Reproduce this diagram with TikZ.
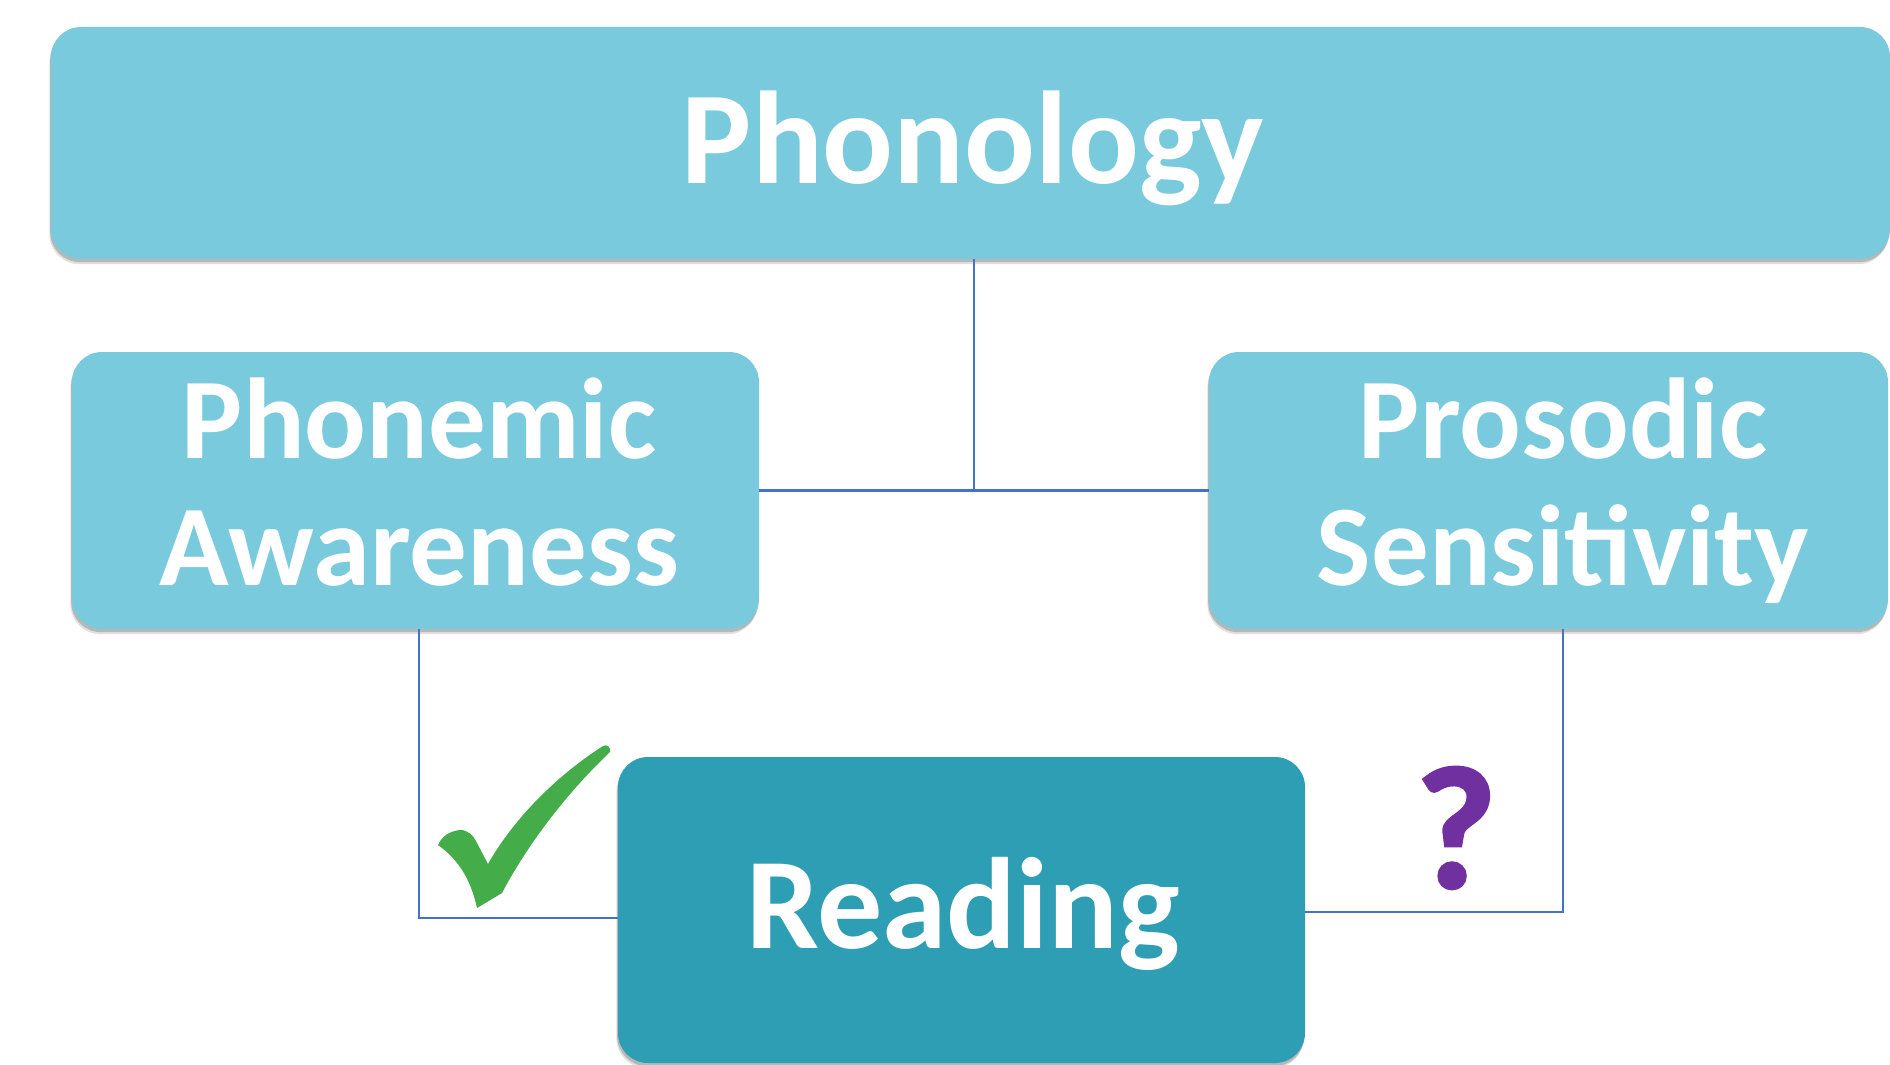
\documentclass[tikz,border=0pt]{standalone}
\usepackage{fontspec}
\setmainfont{Carlito}
\newfontfamily\qfont[BoldFeatures={FakeBold=2}]{Carlito}
\usetikzlibrary{shadows}
\definecolor{lightbox}{RGB}{121,202,220}
\definecolor{darkbox}{RGB}{46,158,180}
\definecolor{linkblue}{RGB}{68,114,196}
\definecolor{checkgreen}{RGB}{68,172,72}
\definecolor{qpurple}{RGB}{112,48,160}
\begin{document}
\begin{tikzpicture}[x=0.5pt,y=-0.5pt,
  boxshape/.style={rectangle, rounded corners=15pt, inner sep=0pt, text=white, align=center,
    drop shadow={shadow xshift=-0.8pt, shadow yshift=-2.6pt, opacity=0.12, fill=black},
    drop shadow={shadow xshift=-0.4pt, shadow yshift=-1.6pt, opacity=0.18, fill=black}},
  light/.style={boxshape, fill=lightbox},
  dark/.style={boxshape, fill=darkbox},
  boxtext/.style={text=white, align=center, inner sep=0pt},
  bigtext/.style={font=\bfseries\fontsize{66}{70}\selectfont},
  midtext/.style={font=\bfseries\fontsize{57.5}{63.3}\selectfont},
  readtext/.style={font=\bfseries\fontsize{65}{70}\selectfont},
  link/.style={draw=linkblue, line width=1.1pt}]
\useasboundingbox (0,0) rectangle (1890,1065);
\fill[white] (0,0) rectangle (1890,1065);

\node[light, bigtext, minimum width=919.5pt, minimum height=116pt] (phon) at (970.5,143) {};
\node[boxtext, bigtext] (phontext) at (973,148) {Phonology};
\node[light, minimum width=343.5pt, minimum height=138.5pt] (pa) at (415.5,490.5) {};
\node[boxtext, midtext] (patext) at (419,482) {Phonemic\\Awareness};
\node[light, minimum width=339.5pt, minimum height=138.5pt] (ps) at (1548.5,490.5) {};
\node[boxtext, midtext] (pstext) at (1563,490.5) {Prosodic\\Sensitivity};
\node[dark, minimum width=343.5pt, minimum height=153pt] (read) at (961.5,910) {};
\node[boxtext, readtext] (readtext) at (963,914) {Reading};

\coordinate (junction) at (974,489);
\coordinate (lcorner) at (419,918);
\coordinate (rcorner) at (1563,912);

\draw[link] (phon.south -| junction) -- (junction);
\draw[link] (pa.east) -- (ps.west);
\draw[link] (lcorner |- pa.south) -- (lcorner) -- (read.west |- lcorner);
\draw[link] (rcorner |- ps.south) -- (rcorner) -- (read.east |- rcorner);

\fill[checkgreen] (438,845) .. controls (442,836) and (450,831) .. (460,830)
  .. controls (468,830) and (473,835) .. (477,843) -- (488,864)
  .. controls (510,825) and (550,780) .. (603,746)
  .. controls (607,744) and (611,747) .. (610,752)
  .. controls (570,790) and (530,840) .. (502,893) -- (477,908)
  .. controls (472,885) and (462,862) .. (438,845) -- cycle;

\node[text=qpurple, font=\qfont\bfseries\fontsize{87}{90}\selectfont, inner sep=0pt] (q) at (1456,828) {?};
\end{tikzpicture}
\end{document}
